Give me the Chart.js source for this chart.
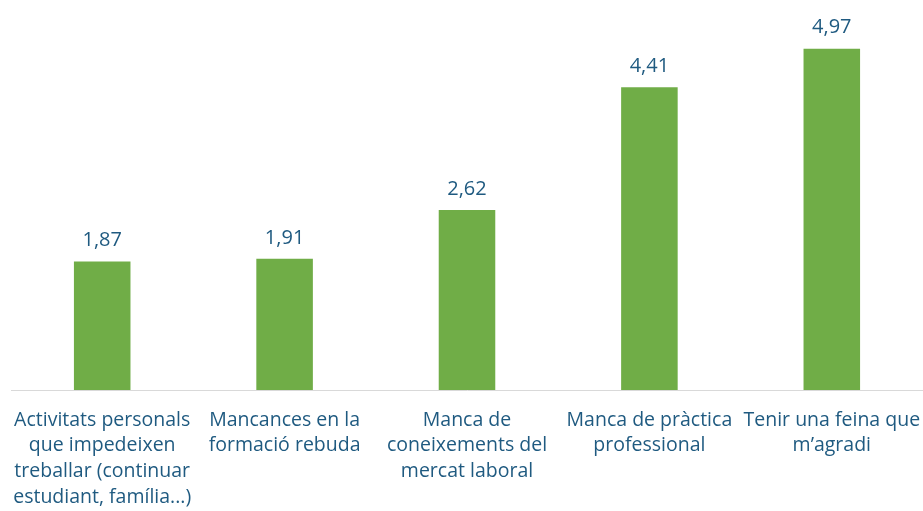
<!DOCTYPE html>
<html lang="ca">
<head>
    <meta charset="UTF-8">
    <title>Motius</title>
    <script src="https://cdn.jsdelivr.net/npm/chart.js"></script>
    <style>
        html, body {
            margin: 0;
            padding: 0;
            background: #ffffff;
        }
        #wrap {
            width: 923px;
            height: 511px;
        }
    </style>
</head>
<body>
    <div id="wrap"><canvas id="chart"></canvas></div>

    <script>
        // Dades
        const categories = [
            ['Activitats personals', 'que impedeixen', 'treballar (continuar', 'estudiant, família...)'],
            ['Mancances en la', 'formació rebuda'],
            ['Manca de', 'coneixements del', 'mercat laboral'],
            ['Manca de pràctica', 'professional'],
            ['Tenir una feina que', 'm\u2019agradi']
        ];
        const values = [1.87, 1.91, 2.62, 4.41, 4.97];

        const textColor = '#1F5A80';
        const fontFamily = '"Open Sans", "DejaVu Sans", sans-serif';

        // Etiquetes de valor damunt de cada barra
        const valueLabels = {
            id: 'valueLabels',
            afterDatasetsDraw(chart) {
                const ctx = chart.ctx;
                const meta = chart.getDatasetMeta(0);
                ctx.save();
                ctx.fillStyle = textColor;
                ctx.font = '20px ' + fontFamily;
                ctx.textAlign = 'center';
                ctx.textBaseline = 'middle';
                meta.data.forEach((bar, i) => {
                    const txt = values[i].toFixed(2).replace('.', ',');
                    ctx.fillText(txt, bar.x, bar.y - 21);
                });
                ctx.restore();
            }
        };

        new Chart(document.getElementById('chart'), {
            type: 'bar',
            data: {
                labels: categories,
                datasets: [{
                    data: values,
                    backgroundColor: '#70AD47',
                    categoryPercentage: 1,
                    barPercentage: 0.31
                }]
            },
            options: {
                responsive: true,
                maintainAspectRatio: false,
                animation: false,
                layout: {
                    padding: { left: 11, right: 0, top: 0, bottom: 0 }
                },
                plugins: {
                    legend: { display: false },
                    tooltip: { enabled: false }
                },
                scales: {
                    x: {
                        grid: { display: false },
                        border: { display: true, color: '#D9D9D9', width: 1 },
                        ticks: {
                            color: textColor,
                            autoSkip: false,
                            maxRotation: 0,
                            padding: 9,
                            font: { family: fontFamily, size: 19.5, lineHeight: 1.33 }
                        },
                        afterFit(scale) {
                            // alçada fixa de l'eix i sense marge lateral extra
                            scale.height = 121;
                            scale.paddingLeft = 0;
                            scale.paddingRight = 0;
                        }
                    },
                    y: {
                        display: false,
                        min: 0,
                        max: 5.68
                    }
                }
            },
            plugins: [valueLabels]
        });
    </script>
</body>
</html>
